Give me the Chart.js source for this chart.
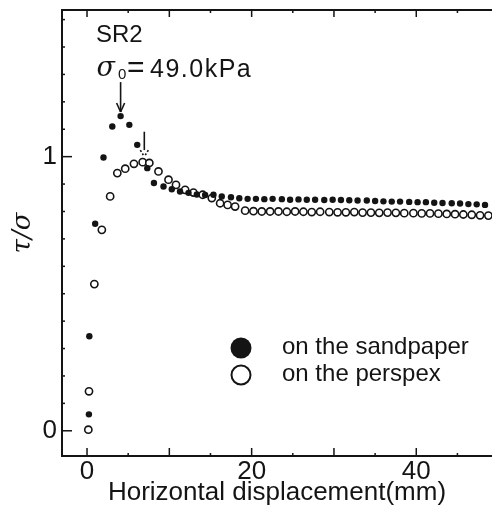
<!DOCTYPE html>
<html><head><meta charset="utf-8">
<script src="https://cdn.jsdelivr.net/npm/chart.js@4/dist/chart.umd.min.js"></script>
<style>html,body{margin:0;padding:0;background:#fff;overflow:hidden}#wrap{width:492px;height:510px;position:relative}</style>
</head><body><div id="wrap"><canvas id="c" width="492" height="510"></canvas></div>
<script>
// ---- data ----
const sandpaperX = [0.23,0.28,0.99,2.0,3.07,4.08,5.14,6.1,7.32,8.13,9.29,10.3,11.3,12.33,13.34,14.35,15.36,16.37,17.49,18.5,19.51,20.52,21.54,22.55,23.67,24.67,25.69,26.7,27.71,28.82,29.84,30.85,31.86,32.87,33.99,35.0,36.01,37.02,38.03,39.14,40.16,41.17,42.18,43.19,44.31,45.32,46.33,47.34,48.35];
const sandpaperY = [0.06,0.345,0.755,0.997,1.11,1.148,1.116,1.043,0.958,0.904,0.891,0.881,0.873,0.868,0.862,0.86,0.861,0.855,0.852,0.848,0.846,0.846,0.845,0.846,0.845,0.843,0.844,0.843,0.843,0.842,0.843,0.842,0.841,0.84,0.84,0.838,0.837,0.836,0.836,0.835,0.834,0.834,0.832,0.831,0.83,0.829,0.827,0.826,0.824];
const perspexX = [0.16,0.24,0.89,1.8,2.81,3.68,4.64,5.7,6.76,7.57,8.68,9.9,10.81,11.92,12.93,14.05,15.16,16.17,17.08,17.99,19.21,20.22,21.23,22.24,23.26,24.27,25.28,26.29,27.3,28.32,29.43,30.44,31.45,32.47,33.48,34.49,35.5,36.51,37.52,38.54,39.65,40.66,41.67,42.69,43.7,44.71,45.72,46.74,47.75,48.76];
const perspexY = [0.004,0.144,0.535,0.733,0.855,0.94,0.956,0.974,0.98,0.977,0.946,0.916,0.897,0.879,0.869,0.861,0.849,0.83,0.824,0.818,0.803,0.801,0.8,0.8,0.8,0.799,0.8,0.799,0.798,0.799,0.798,0.797,0.797,0.798,0.796,0.796,0.795,0.796,0.795,0.794,0.794,0.793,0.793,0.792,0.791,0.79,0.789,0.788,0.786,0.785];
const seriesNames = ['on the sandpaper','on the perspex'];
const xTickLabels = [0,20,40];
const yTickLabels = [0,1];
const xMinorTicks = [0,5,10,15,20,25,30,35,40,45];
const xMajorTicks = [0,10,20,30,40];
const yMinorTicks = [0,0.1,0.2,0.3,0.4,0.5,0.6,0.7,0.8,0.9,1.0,1.1,1.2,1.3,1.4,1.5];
const yMajorTicks = [0,1];
const specimenLabel = 'SR2';
const stressLabel = '49.0kPa';
const peakSand = 4.08, peakPerspex = 6.96;

const toPts = (xs, ys) => xs.map((x, i) => ({x, y: ys[i]}));
const INK = '#141414';

const annot = {
  id: 'annot',
  afterDraw(chart) {
    const {ctx, chartArea: a, scales: {x, y}} = chart;
    const line = (x1, y1, x2, y2) => { ctx.beginPath(); ctx.moveTo(x1, y1); ctx.lineTo(x2, y2); ctx.stroke(); };
    ctx.save();
    ctx.strokeStyle = INK; ctx.fillStyle = INK;
    ctx.lineWidth = 2;
    line(a.left, a.top, a.right, a.top);
    ctx.lineWidth = 1.5;
    xMinorTicks.forEach(v => {
      const px = x.getPixelForValue(v);
      const major = xMajorTicks.includes(v);
      line(px, a.bottom, px, a.bottom - (major ? 8 : 3));
      line(px, a.top, px, a.top + (major ? 7 : 3));
    });
    yMinorTicks.forEach(v => {
      const py = y.getPixelForValue(v);
      line(a.left, py, a.left + (yMajorTicks.includes(v) ? 10 : 3), py);
    });
    ctx.textBaseline = 'alphabetic'; ctx.textAlign = 'left';
    ctx.font = '24px "Liberation Sans", Arial, sans-serif';
    ctx.fillText(specimenLabel, x.getPixelForValue(1.09), y.getPixelForValue(1.419));
    const by = y.getPixelForValue(1.29);
    ctx.font = 'italic 27px "DejaVu Serif", serif';
    ctx.fillText('σ', x.getPixelForValue(1.15), by - 1);
    ctx.font = '15px "Liberation Sans", Arial, sans-serif';
    ctx.fillText('0', x.getPixelForValue(3.75), by + 2);
    ctx.font = '30px "Liberation Sans", Arial, sans-serif';
    ctx.fillText('=', x.getPixelForValue(4.85), by);
    ctx.font = '25px "Liberation Sans", Arial, sans-serif';
    try { ctx.letterSpacing = '1.5px'; } catch (e) {}
    ctx.fillText(stressLabel, x.getPixelForValue(7.65), by);
    try { ctx.letterSpacing = '0px'; } catch (e) {}
    ctx.lineWidth = 1.6;
    let ax = x.getPixelForValue(peakSand);
    let y1 = y.getPixelForValue(1.272), y2 = y.getPixelForValue(1.163);
    line(ax, y1, ax, y2);
    line(ax - 4, y2 - 9, ax, y2); line(ax + 4, y2 - 9, ax, y2);
    ax = x.getPixelForValue(peakPerspex);
    y1 = y.getPixelForValue(1.091); y2 = y.getPixelForValue(1.024);
    line(ax, y1, ax, y2);
    ctx.setLineDash([2, 2]);
    line(ax - 4, y2, ax - 1, y2 + 5); line(ax + 4, y2, ax + 1, y2 + 5);
    ctx.setLineDash([]);
    const lx = a.left + 179, ly1 = 348, ly2 = 375;
    ctx.beginPath(); ctx.arc(lx, ly1, 10.5, 0, Math.PI * 2); ctx.fill();
    ctx.lineWidth = 2;
    ctx.beginPath(); ctx.arc(lx, ly2, 9.5, 0, Math.PI * 2); ctx.stroke();
    ctx.font = '24px "Liberation Sans", Arial, sans-serif';
    ctx.textBaseline = 'middle';
    ctx.fillText(seriesNames[0], lx + 41, ly1 - 1);
    ctx.fillText(seriesNames[1], lx + 41, ly2 - 1);
    ctx.restore();
  }
};

new Chart(document.getElementById('c'), {
  type: 'scatter',
  data: {
    datasets: [
      {label: seriesNames[0], data: toPts(sandpaperX, sandpaperY), pointStyle: 'circle', pointRadius: 3.2, backgroundColor: INK, borderColor: INK, borderWidth: 0},
      {label: seriesNames[1], data: toPts(perspexX, perspexY), pointStyle: 'circle', pointRadius: 3.6, backgroundColor: '#fff', borderColor: INK, borderWidth: 1.6}
    ]
  },
  options: {
    responsive: false, animation: false, devicePixelRatio: 1,
    layout: {autoPadding: false, padding: {top: 10, right: 0, left: 0, bottom: 0}},
    plugins: {legend: {display: false}, tooltip: {enabled: false}},
    scales: {
      x: {
        type: 'linear', position: 'bottom', min: -3.04, max: 49.2,
        afterBuildTicks: s => { s.ticks = xTickLabels.map(v => ({value: v})); },
        afterFit: s => { s.height = 54; s.paddingLeft = 0; s.paddingRight = 0; },
        grid: {display: false, drawTicks: false},
        border: {display: true, color: INK, width: 2},
        ticks: {color: INK, font: {family: '"Liberation Sans", Arial, sans-serif', size: 26}, padding: 0, maxRotation: 0, autoSkip: false},
        title: {display: true, text: 'Horizontal displacement(mm)', color: INK, font: {family: '"Liberation Sans", Arial, sans-serif', size: 26}, padding: {top: 0, bottom: 2}}
      },
      y: {
        type: 'linear', min: -0.092, max: 1.535,
        afterBuildTicks: s => { s.ticks = yTickLabels.map(v => ({value: v})); },
        afterFit: s => { s.width = 62; s.paddingTop = 0; s.paddingBottom = 0; },
        grid: {display: false, drawTicks: false},
        border: {display: true, color: INK, width: 2},
        ticks: {color: INK, font: {family: '"Liberation Sans", Arial, sans-serif', size: 26}, padding: 5},
        title: {display: true, text: 'τ/σ', color: INK, font: {family: '"DejaVu Serif", serif', size: 26, style: 'italic'}, padding: {top: 8, bottom: 0}}
      }
    }
  },
  plugins: [annot]
});
</script></body></html>
